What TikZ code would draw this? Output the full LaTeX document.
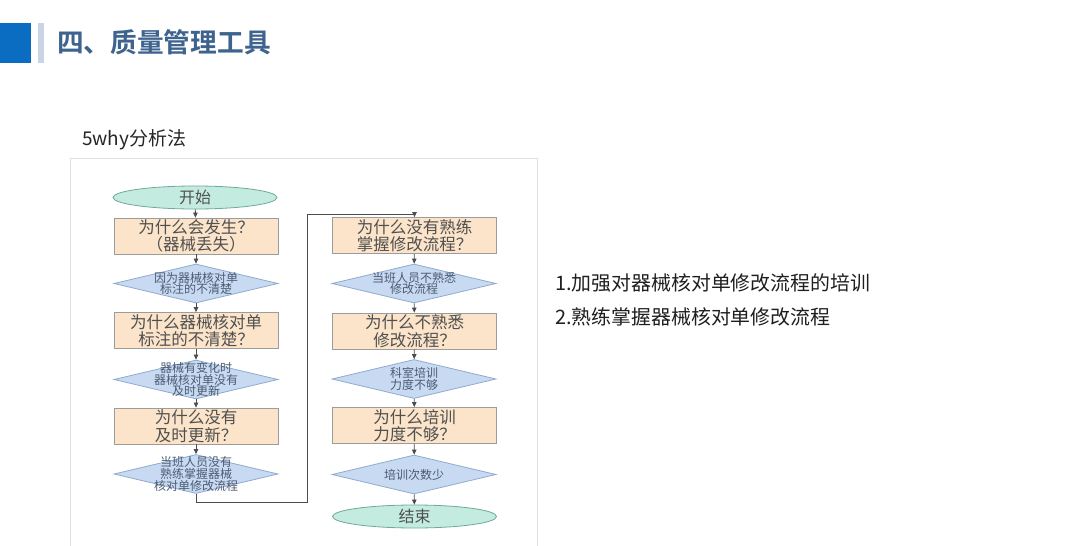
\documentclass[tikz,border=0pt]{standalone}
\usepackage{fontspec}
\setmainfont{Noto Sans CJK SC}
\newfontfamily\cjkb{Noto Sans CJK SC Bold}
\usetikzlibrary{shapes.geometric,arrows.meta}
\definecolor{titleblue}{HTML}{3E638E}
\definecolor{sqblue}{HTML}{0B6DC2}
\definecolor{barblue}{HTML}{C9D5E6}
\definecolor{elfill}{HTML}{C4EBDF}
\definecolor{eldraw}{HTML}{6FA99B}
\definecolor{boxfill}{HTML}{FBE4C9}
\definecolor{boxdraw}{HTML}{9C9C9C}
\definecolor{dfill}{HTML}{C7DAF1}
\definecolor{ddraw}{HTML}{8FAAD0}
\definecolor{btext}{HTML}{505050}
\definecolor{dtext}{HTML}{4B5A72}
\tikzset{
  term/.style={ellipse, draw=eldraw, fill=elfill, line width=0.8pt, minimum width=164pt, minimum height=23pt, inner sep=0pt, text=btext, font=\fontsize{16}{18}\selectfont},
  qbox/.style={rectangle, draw=boxdraw, fill=boxfill, line width=0.8pt, minimum width=164pt, minimum height=36pt, inner sep=0pt, align=center, text=btext, font=\fontsize{16.5}{17.5}\selectfont},
  ans/.style={diamond, draw=ddraw, fill=dfill, line width=0.8pt, minimum width=164pt, minimum height=39pt, inner sep=0pt},
  dlab/.style={align=center, text=dtext, font=\fontsize{12}{11.8}\selectfont, inner sep=0pt},
  flow/.style={draw=black!70, line width=0.8pt, -{Triangle[length=5pt,width=4.5pt]}},
  panelline/.style={draw=black!12, line width=0.8pt},
  concl/.style={anchor=west, text=black!88, font=\fontsize{19.9}{21}\selectfont, inner sep=0pt}
}
\begin{document}
\begin{tikzpicture}[x=1pt,y=-1pt]
\useasboundingbox (0,0) rectangle (1080,546);
\fill[white] (0,0) rectangle (1080,546);
% header
\fill[sqblue] (0,22.5) rectangle (31,62.5);
\fill[barblue] (37.5,22.5) rectangle (43.5,62.5);
\node[anchor=west, text=titleblue, font=\cjkb\fontsize{26.7}{28}\selectfont, inner sep=0pt] (title) at (57,42) {四、质量管理工具};
\node[anchor=west, text=black!85, font=\fontsize{19}{20}\selectfont, inner sep=0pt] (sub) at (82,140) {5why分析法};
% panel
\draw[panelline] (70,546) -- (70,158) -- (537,158) -- (537,546);
% left column
\node[term] (start) at (195,197.5) {开始};
\node[qbox] (q1) at (196,236) {为什么会发生？\\（器械丢失）};
\node[ans, label={[dlab]center:因为器械核对单\\标注的不清楚}] (a1) at (196,283.5) {};
\node[qbox] (q2) at (196,330.5) {为什么器械核对单\\标注的不清楚？};
\node[ans, label={[dlab]center:器械有变化时\\器械核对单没有\\及时更新}] (a2) at (196,379.5) {};
\node[qbox] (q3) at (196,426) {为什么没有\\及时更新？};
\node[ans, label={[dlab]center:当班人员没有\\熟练掌握器械\\核对单修改流程}] (a3) at (196,474) {};
% right column
\node[qbox] (q4) at (414.5,235.5) {为什么没有熟练\\掌握修改流程？};
\node[ans, label={[dlab]center:当班人员不熟悉\\修改流程}] (a4) at (414,283.5) {};
\node[qbox] (q5) at (414.5,331) {为什么不熟悉\\修改流程？};
\node[ans, label={[dlab]center:科室培训\\力度不够}] (a5) at (414,379) {};
\node[qbox] (q6) at (414.5,425.5) {为什么培训\\力度不够？};
\node[ans, label={[dlab]center:培训次数少}] (a6) at (414,474.5) {};
\node[term] (end) at (414.5,516.5) {结束};
% connectors
\draw[flow] (start) -- (q1);
\draw[flow] (q1) -- (a1);
\draw[flow] (a1) -- (q2);
\draw[flow] (q2) -- (a2);
\draw[flow] (a2) -- (q3);
\draw[flow] (q3) -- (a3);
\coordinate (c1) at (196,502.5);
\coordinate (c2) at (307.5,502.5);
\coordinate (c3) at (307.5,214);
\coordinate (c4) at (414.5,214);
\draw[flow] (a3.south) -- (c1) -- (c2) -- (c3) -- (c4) -- (q4.north);
\draw[flow] (q4) -- (a4);
\draw[flow] (a4) -- (q5);
\draw[flow] (q5) -- (a5);
\draw[flow] (a5) -- (q6);
\draw[flow] (q6) -- (a6);
\draw[flow] (a6) -- (end);
% conclusions
\node[concl] (r1) at (555,283) {1.加强对器械核对单修改流程的培训};
\node[concl] (r2) at (555,316.5) {2.熟练掌握器械核对单修改流程};
\end{tikzpicture}
\end{document}
